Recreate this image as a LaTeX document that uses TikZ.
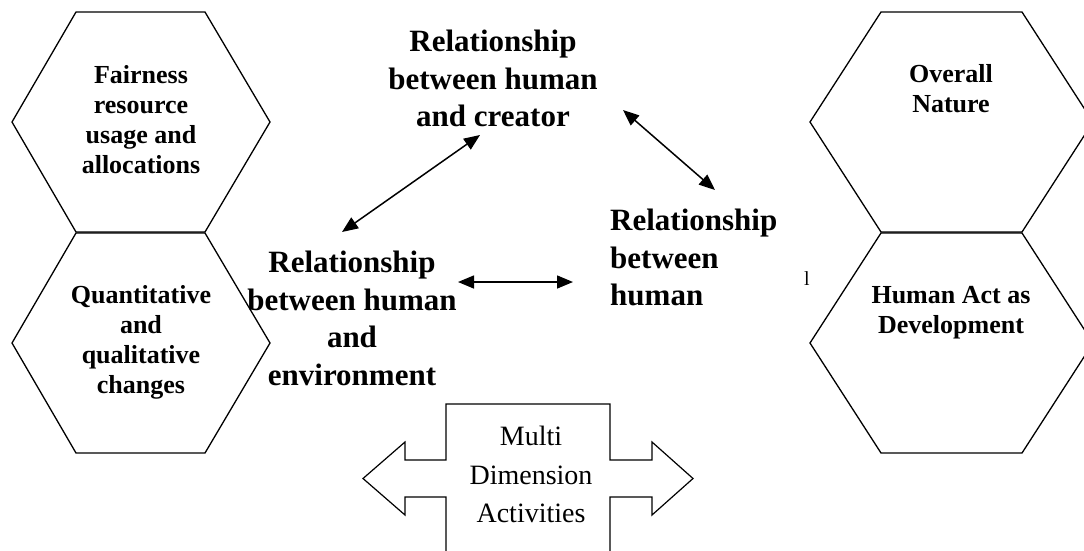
\documentclass[tikz,border=0pt]{standalone}
\usepackage{fontspec}
\setmainfont{Liberation Serif}
\usetikzlibrary{arrows.meta}
\begin{document}
\begin{tikzpicture}[x=1pt,y=-1pt,
  hex/.style={draw=black,line width=1.3pt,line join=miter},
  hextext/.style={font=\bfseries\fontsize{26}{30}\selectfont,align=center,inner sep=0pt,anchor=north},
  reltext/.style={font=\bfseries\fontsize{31}{37.5}\selectfont,inner sep=0pt,anchor=north},
  link/.style={line width=1.5pt,{Triangle[length=16pt,width=13pt]}-{Triangle[length=16pt,width=13pt]}},
  outline/.style={draw=black,line width=1.2pt,line join=miter}
]
\useasboundingbox (0,0) rectangle (1084,550);
\clip (0,0) rectangle (1084,550);
% left hexagons
\draw[hex] (12,122) -- (76,12) -- (205,12) -- (270,122) -- (205,232) -- (76,232) -- cycle;
\draw[hex] (12,343) -- (76,233) -- (205,233) -- (270,343) -- (205,453) -- (76,453) -- cycle;
% right hexagons
\draw[hex] (810,122) -- (881,12) -- (1022,12) -- (1093,122) -- (1022,232) -- (881,232) -- cycle;
\draw[hex] (810,343) -- (881,233) -- (1022,233) -- (1093,343) -- (1022,453) -- (881,453) -- cycle;
% hexagon texts
\node[hextext] (fair) at (141,65) {Fairness\\resource\\usage and\\allocations};
\node[hextext] (quant) at (141,285) {Quantitative\\and\\qualitative\\changes};
\node[hextext] (overall) at (951,64) {Overall\\Nature};
\node[hextext] (humanact) at (951,286) {Human Act as\\Development};
% relationship texts
\node[reltext,align=center] (creator) at (493,30) {Relationship\\between human\\and creator};
\node[reltext,align=center] (env) at (352,251) {Relationship\\between human\\and\\environment};
\node[reltext,align=left,anchor=north west] (human) at (610,209) {Relationship\\between\\human};
\node[font=\fontsize{20}{22}\selectfont,inner sep=0pt,anchor=base] (mark) at (807,285) {l};
% connector ends
\coordinate (c1) at (480,135);
\coordinate (e1) at (342,232);
\coordinate (c2) at (623,110);
\coordinate (h1) at (715,190);
\coordinate (e2) at (458,282);
\coordinate (h2) at (573,282);
\draw[link] (c1) -- (e1);
\draw[link] (c2) -- (h1);
\draw[link] (e2) -- (h2);
% multi dimension double arrow shape
\draw[outline] (446,560) -- (446,497) -- (405,497) -- (405,515) -- (363,478.5) -- (405,442) -- (405,460) -- (446,460) -- (446,404) -- (610,404) -- (610,460) -- (652,460) -- (652,442) -- (693,478.5) -- (652,515) -- (652,497) -- (610,497) -- (610,560);
\node[font=\fontsize{28}{38.5}\selectfont,align=center,inner sep=0pt,anchor=north] (multi) at (531,426) {Multi\\Dimension\\Activities};
\end{tikzpicture}
\end{document}
